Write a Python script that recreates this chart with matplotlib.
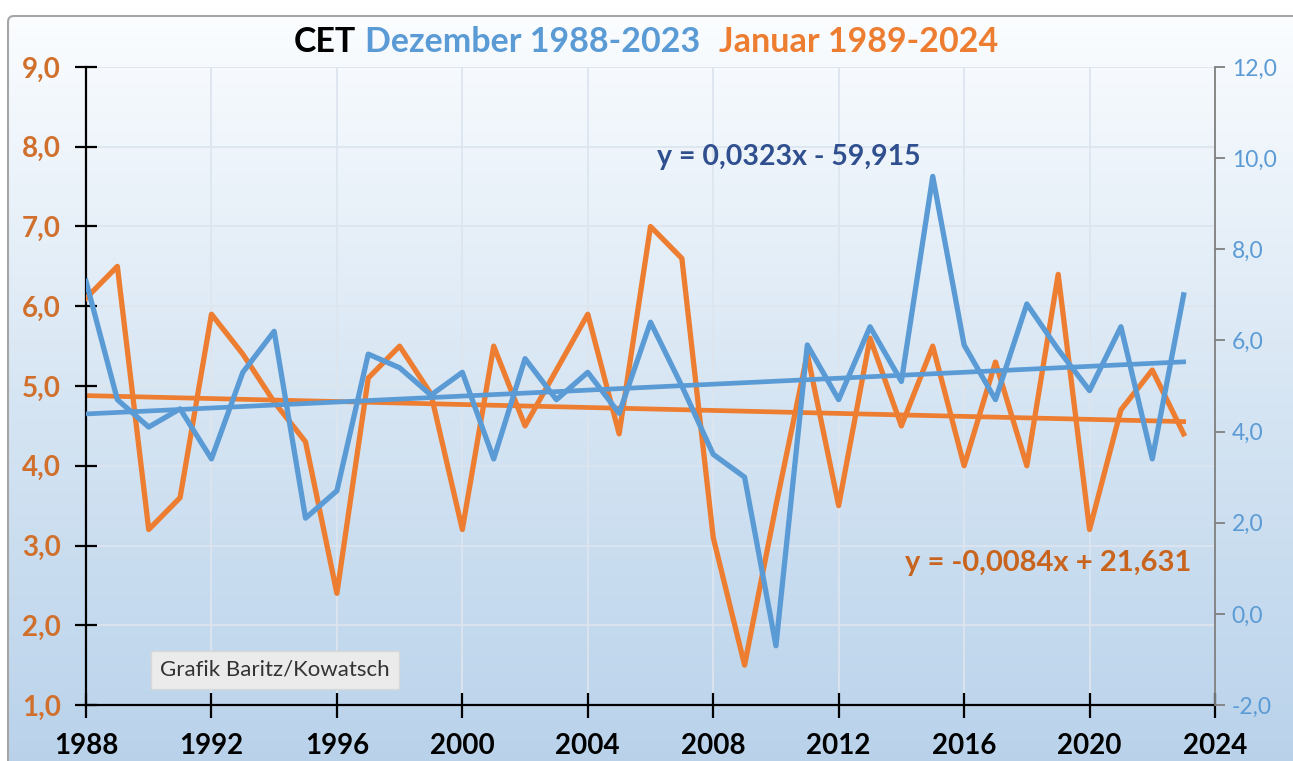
import numpy as np
import matplotlib
matplotlib.use('Agg')
import matplotlib.pyplot as plt
from matplotlib.ticker import FuncFormatter, MultipleLocator
from matplotlib.colors import LinearSegmentedColormap
from matplotlib.patches import FancyBboxPatch

plt.rcParams['font.family'] = ['Lato', 'DejaVu Sans']

# CET December (right axis) and following January (left axis), plotted at the December year
years = np.arange(1988, 2024)
dez = [7.3, 4.7, 4.1, 4.5, 3.4, 5.3, 6.2, 2.1, 2.7, 5.7,
       5.4, 4.8, 5.3, 3.4, 5.6, 4.7, 5.3, 4.4, 6.4, 5.0,
       3.5, 3.0, -0.7, 5.9, 4.7, 6.3, 5.1, 9.6, 5.9, 4.7,
       6.8, 5.8, 4.9, 6.3, 3.4, 7.0]
jan = [6.1, 6.5, 3.2, 3.6, 5.9, 5.4, 4.8, 4.3, 2.4, 5.1,
       5.5, 4.9, 3.2, 5.5, 4.5, 5.2, 5.9, 4.4, 7.0, 6.6,
       3.1, 1.5, 3.5, 5.4, 3.5, 5.6, 4.5, 5.5, 4.0, 5.3,
       4.0, 6.4, 3.2, 4.7, 5.2, 4.4]
eq_dez = 'y = 0,0323x - 59,915'
eq_jan = 'y = -0,0084x + 21,631'

blue = '#5b9bd5'
orange = '#ed7d31'
orange_dark = '#d0702c'

W, H = 1293, 761
fig = plt.figure(figsize=(W / 100, H / 100), dpi=100)

# background with gradient and frame (pixel coordinates)
bg = fig.add_axes([0, 0, 1, 1], zorder=-10)
bg.axis('off')
cmap = LinearSegmentedColormap.from_list('bg', ['#fbfdff', '#d6e5f3', '#b7d1ea'])
grad = np.linspace(0, 1, 256)[:, None]
bg.imshow(grad, aspect='auto', cmap=cmap, extent=[8, 1300, 790, 16], zorder=0)
bg.add_patch(FancyBboxPatch((8, 16), 1300, 800, boxstyle='round,pad=0,rounding_size=6',
                            fc='none', ec='#a6a6a6', lw=1.5, zorder=2))
bg.set_xlim(0, W)
bg.set_ylim(H, 0)

ax = fig.add_axes([86 / W, 1 - 705 / H, (1215 - 86) / W, (705 - 67) / H])
ax.patch.set_alpha(0)
ax2 = ax.twinx()
ax2.patch.set_alpha(0)

ax.plot(years, jan, color=orange, lw=3.8, zorder=3)
ax2.plot(years, dez, color=blue, lw=3.8, zorder=3)

# linear trends
pj = np.polyfit(years, jan, 1)
pd_ = np.polyfit(years, dez, 1)
ax.plot(years, np.polyval(pj, years), color=orange, lw=3.4, zorder=2)
ax2.plot(years, np.polyval(pd_, years), color=blue, lw=3.4, zorder=2)

ax.set_xlim(1988, 2024)
ax.set_ylim(1, 9)
ax2.set_ylim(-2, 12)
ax.xaxis.set_major_locator(MultipleLocator(4))
ax.yaxis.set_major_locator(MultipleLocator(1))
ax2.yaxis.set_major_locator(MultipleLocator(2))

fmt = FuncFormatter(lambda v, p: f'{v:.1f}'.replace('.', ','))
ax.yaxis.set_major_formatter(fmt)
ax2.yaxis.set_major_formatter(fmt)

ax.grid(True, color='#dde5ee', lw=1.3, zorder=0)
ax.set_axisbelow(True)

for s in ['top', 'right']:
    ax.spines[s].set_visible(False)
for s in ['top', 'left', 'bottom']:
    ax2.spines[s].set_visible(False)
ax.spines['left'].set_linewidth(1.6)
ax.spines['bottom'].set_linewidth(1.6)
ax2.spines['right'].set_color('#7f7f7f')
ax2.spines['right'].set_linewidth(1.3)

ax.tick_params(axis='y', direction='inout', length=16, width=1.6, pad=10,
               labelsize=20, labelcolor=orange_dark)
ax.tick_params(axis='x', direction='inout', length=18, width=1.6, pad=11,
               labelsize=20, labelcolor='black')
ax2.tick_params(axis='y', direction='out', length=7, width=1.3, color='#7f7f7f',
                pad=5, labelsize=16.5, labelcolor=blue)
for lab in ax.get_yticklabels() + ax.get_xticklabels():
    lab.set_fontweight('bold')

# trend equations
fig.text(789 / W, 1 - 157 / H, eq_dez, color='#2f4f8f', fontsize=20.5,
         fontweight='bold', ha='center', va='center')
fig.text(1048 / W, 1 - 563 / H, eq_jan, color='#c8641e', fontsize=21,
         fontweight='bold', ha='center', va='center')

# credit box
fig.text(275 / W, 1 - 670 / H, 'Grafik Baritz/Kowatsch', color='#333333', fontsize=16,
         ha='center', va='center',
         bbox=dict(boxstyle='square,pad=0.4', fc='#ebebeb', ec='#d8d8d8', lw=1))

# title in three colours
parts = [('CET', 'black'), ('Dezember 1988-2023', blue), ('Januar 1989-2024', orange)]
gaps = [9, 18]
texts = [fig.text(0, 1 - 42 / H, t, color=c, fontsize=24.5, fontweight='bold',
                  ha='left', va='center') for t, c in parts]
fig.canvas.draw()
r = fig.canvas.get_renderer()
widths = [t.get_window_extent(r).width for t in texts]
total = sum(widths) + sum(gaps)
x = 646 - total / 2
for i, t in enumerate(texts):
    t.set_x(x / W)
    x += widths[i] + (gaps[i] if i < len(gaps) else 0)

fig.savefig('out.png', dpi=100)
